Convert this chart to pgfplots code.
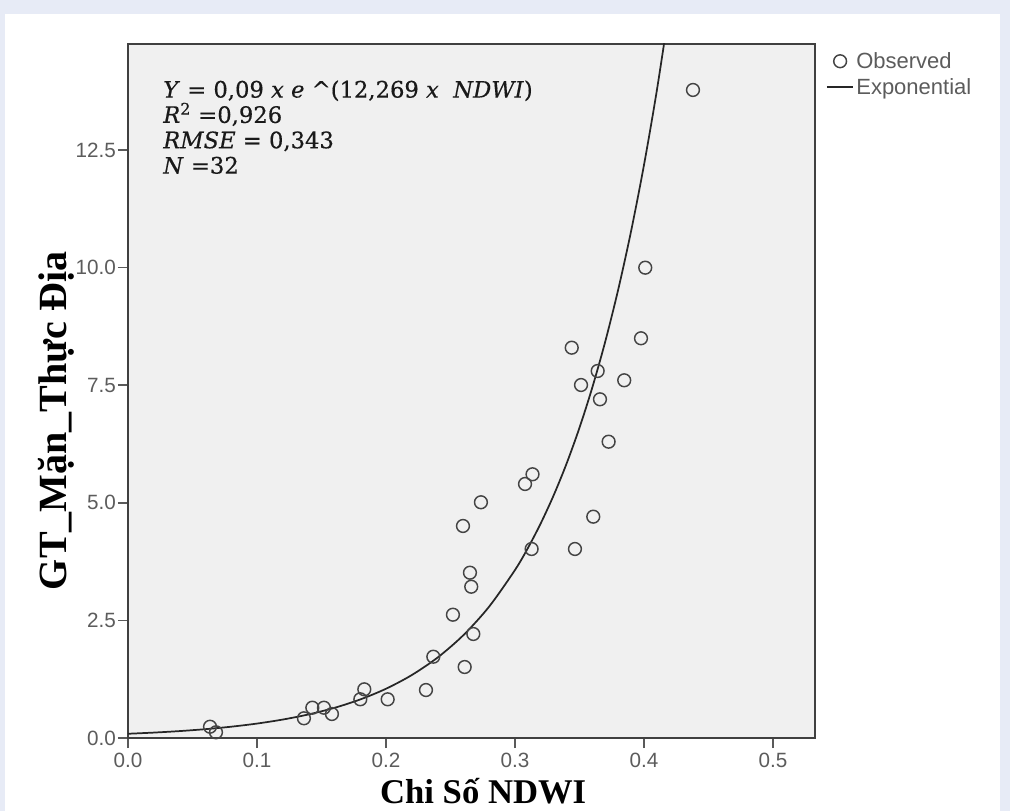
\documentclass[border=0pt]{standalone}
\usepackage{pgfplots}
\pgfplotsset{compat=1.18}
\usepackage{fontspec}
\setmainfont{Liberation Serif}
\setsansfont{Liberation Sans}
\newfontfamily\eqfont[FakeBold=0.4]{DejaVu Serif}
\definecolor{bgl}{HTML}{E7EBF6}
\definecolor{plotbg}{HTML}{F0F0F0}
\definecolor{axc}{HTML}{5A5A5A}
\definecolor{tlab}{HTML}{5C5C5C}
\definecolor{mk}{HTML}{444444}
\begin{document}
\begin{tikzpicture}
\fill[bgl] (-96pt,-54.75pt) rectangle (661.5pt,553.5pt);
\useasboundingbox (-96pt,-54.75pt) rectangle (661.5pt,553.5pt);
\fill[white] (-92.25pt,-54.75pt) rectangle (654pt,543pt);
\begin{axis}[
  at={(0,0)}, anchor=south west,
  scale only axis, width=515.25pt, height=520.5pt,
  xmin=0, xmax=0.5326, ymin=0, ymax=14.753,
  axis background/.style={fill=plotbg},
  axis line style={black!75, line width=1.2pt},
  tick align=outside, tick style={axc, line width=1.3pt}, major tick length=7.5pt,
  xtick={0,0.1,0.2,0.3,0.4,0.5}, ytick={0,2.5,5,7.5,10,12.5},
  xtick pos=left, ytick pos=left,
  tick label style={font=\sffamily\fontsize{15.5pt}{16pt}\selectfont, text=tlab},
  yticklabel style={xshift=2pt},
  /pgf/number format/fixed, /pgf/number format/fixed zerofill,
  /pgf/number format/precision=1, /pgf/number format/assume math mode=true,
  xlabel={Chi Số NDWI},
  xlabel style={at={(axis description cs:0.517,-0.077)}, anchor=center, font=\bfseries\fontsize{26pt}{28pt}\selectfont},
  ylabel={GT\_Mặn\_Thực Địa},
  ylabel style={at={(axis description cs:-0.104,0.457)}, anchor=center, font=\bfseries\fontsize{30pt}{31pt}\selectfont},
  legend style={at={(axis description cs:1,1)}, anchor=north west, xshift=8pt, yshift=-4pt,
    draw=none, fill=none, font=\sffamily\fontsize{16.5pt}{18pt}\selectfont, text=tlab,
    inner sep=0pt, row sep=2pt, nodes={inner xsep=1.5pt}},
  legend cell align=left,
  legend image code/.code={\draw[mark repeat=2,mark phase=2,#1] plot coordinates {(0pt,0pt) (10pt,0pt) (20pt,0pt)};},
]
\addplot[only marks, mark=o, mark size=4.8pt, mark options={draw=mk, line width=1.1pt}] coordinates {
(0.0636,0.240) (0.0682,0.121) (0.1364,0.419) (0.1429,0.644) (0.1519,0.644)
(0.1581,0.510) (0.1801,0.823) (0.1832,1.035) (0.2013,0.823) (0.2310,1.020)
(0.2367,1.728) (0.2519,2.621) (0.2610,1.509) (0.2677,2.211) (0.2597,4.507)
(0.2651,3.514) (0.2661,3.216) (0.2736,5.011) (0.3078,5.400) (0.3136,5.606)
(0.3129,4.018) (0.3440,8.297) (0.3465,4.018) (0.3512,7.504) (0.3641,7.802)
(0.3659,7.200) (0.3607,4.705) (0.3726,6.299) (0.3847,7.604) (0.3977,8.497)
(0.4010,9.998) (0.4380,13.776)
};
\addlegendentry{Observed}
\addplot[black!85, line width=1.3pt, smooth] coordinates {
(0.00,0.0900) (0.02,0.1150) (0.04,0.1470) (0.06,0.1879) (0.08,0.2402)
(0.10,0.3070) (0.12,0.3923) (0.14,0.5014) (0.16,0.6409) (0.18,0.8191)
(0.20,1.0469) (0.22,1.3381) (0.24,1.7103) (0.26,2.1859) (0.28,2.7939)
(0.30,3.5709) (0.31,4.0369) (0.32,4.5638) (0.33,5.1595) (0.34,5.8330)
(0.35,6.5944) (0.36,7.4552) (0.37,8.4283) (0.38,9.5285) (0.39,10.772)
(0.40,12.178) (0.41,13.768) (0.42,15.565)
};
\addlegendentry{Exponential}
\node[anchor=north west, align=left, inner sep=0pt, text=black!90, font=\eqfont\fontsize{17pt}{19pt}\selectfont]
  at (axis description cs:0.051,0.948)
  {\textit{Y} = 0,09 \textit{x e} \^{}(12,269 \textit{x}\ \ \textit{NDWI})\\
   \textit{R}\textsuperscript{2} =0,926\\
   \textit{RMSE} = 0,343\\
   \textit{N} =32};
\end{axis}
\end{tikzpicture}
\end{document}
